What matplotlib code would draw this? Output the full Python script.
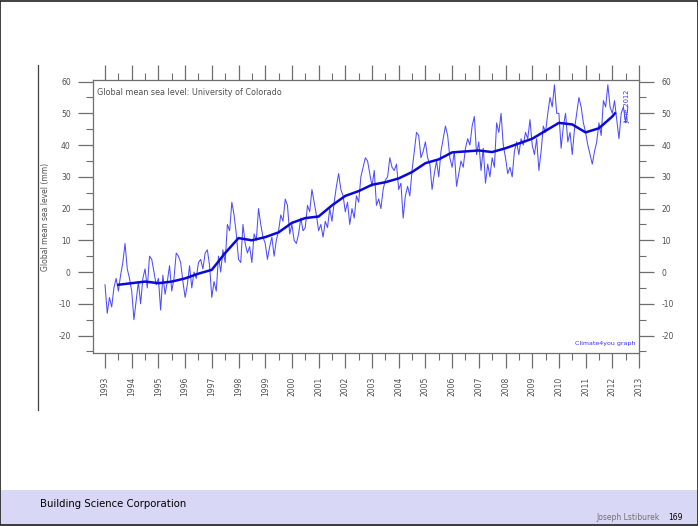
import matplotlib
matplotlib.use("Agg")
import matplotlib.pyplot as plt
from matplotlib.patches import Rectangle
from matplotlib.lines import Line2D
from matplotlib.ticker import MultipleLocator
import numpy as np

plt.rcParams["axes.unicode_minus"] = False

# monthly global mean sea level (mm), 1993.0 onwards
raw_by_year = {
    1993: [-4, -13, -8, -11, -5, -2, -6, -1, 3, 9, 1, -2],
    1994: [-6, -15, -9, -3, -10, -2, 1, -5, 5, 4, 0, -4],
    1995: [-2, -12, -1, -7, -3, 2, -6, -2, 6, 5, 3, -3],
    1996: [-8, -4, 2, -5, 0, -2, 3, 4, 1, 6, 7, 2],
    1997: [-8, -3, -6, 5, 0, 7, 3, 15, 13, 22, 18, 12],
    1998: [4, 3, 15, 9, 6, 8, 3, 12, 10, 20, 15, 11],
    1999: [9, 4, 8, 11, 5, 10, 13, 18, 16, 23, 21, 12],
    2000: [15, 10, 9, 12, 17, 13, 14, 21, 19, 26, 22, 18],
    2001: [13, 15, 11, 16, 14, 20, 16, 22, 27, 31, 26, 24],
    2002: [19, 22, 15, 20, 17, 24, 22, 30, 33, 36, 35, 31],
    2003: [27, 32, 21, 23, 20, 26, 29, 30, 36, 33, 32, 34],
    2004: [26, 28, 17, 24, 27, 24, 32, 38, 44, 43, 36, 38],
    2005: [41, 36, 34, 26, 31, 35, 30, 38, 42, 46, 43, 36],
    2006: [33, 38, 27, 31, 35, 33, 39, 42, 40, 46, 49, 37],
    2007: [41, 32, 39, 28, 34, 30, 36, 33, 47, 44, 50, 40],
    2008: [36, 31, 33, 30, 38, 41, 37, 42, 40, 44, 42, 48],
    2009: [40, 37, 42, 32, 38, 46, 44, 50, 55, 52, 59, 50],
    2010: [50, 39, 46, 50, 41, 44, 37, 45, 50, 55, 52, 47],
    2011: [44, 40, 37, 34, 38, 41, 47, 43, 54, 52, 59, 52],
    2012: [50, 54, 48, 42, 50, 52, 47, 52],
}

# running mean
smooth_years = [1993.5, 1994.0, 1994.5, 1995.0, 1995.5, 1996.0, 1996.5, 1997.0,
                1997.5, 1998.0, 1998.5, 1999.0, 1999.5, 2000.0, 2000.5, 2001.0,
                2001.5, 2002.0, 2002.5, 2003.0, 2003.5, 2004.0, 2004.5, 2005.0,
                2005.5, 2006.0, 2006.5, 2007.0, 2007.5, 2008.0, 2008.5, 2009.0,
                2009.5, 2010.0, 2010.5, 2011.0, 2011.5, 2012.0, 2012.1]
smooth_vals = [-4, -3.5, -3, -3.5, -3, -2, -0.5, 0.7,
               6, 10.7, 10, 11, 12.5, 15.5, 17, 17.5,
               21, 24, 25.5, 27.5, 28.3, 29.5, 31.5, 34.3,
               35.5, 37.7, 38, 38.3, 37.8, 39, 40.5, 42,
               44.5, 47, 46.5, 44, 45.3, 49, 50]

year_ticks = list(range(1993, 2014))

raw_vals = []
raw_times = []
for yr, vals in raw_by_year.items():
    for m, v in enumerate(vals):
        raw_times.append(yr + m / 12)
        raw_vals.append(v)

gray = "#6e6e6e"

fig = plt.figure(figsize=(6.98, 5.26), dpi=100)
fig.patch.set_facecolor("white")

# slide decorations
fig.patches.append(Rectangle((0, 0), 1, 36 / 526, transform=fig.transFigure,
                             facecolor="#d8d8f6", edgecolor="none", zorder=0))
fig.patches.append(Rectangle((0.0007, 0.001), 0.9986, 0.998, transform=fig.transFigure,
                             facecolor="none", edgecolor="#202020", lw=1.2, zorder=5))
fig.lines.append(Line2D([38 / 698, 38 / 698], [1 - 65 / 526, 1 - 410 / 526],
                        transform=fig.transFigure, color="#404040", lw=0.9))
fig.text(40 / 698, 1 - 504 / 526, "Building Science Corporation", fontsize=7.3,
         color="black", va="center", ha="left")
fig.text(660 / 698, 1 - 517 / 526, "Joseph Lstiburek", fontsize=5.5,
         color="#707070", va="center", ha="right")
fig.text(668 / 698, 1 - 517 / 526, "169", fontsize=5.5,
         color="black", va="center", ha="left")

ax = fig.add_axes([93 / 698, 1 - 353 / 526, 546 / 698, 273 / 526])
ax.plot(raw_times, raw_vals, color="#4d4dff", lw=0.75)
ax.plot(smooth_years, smooth_vals, color="#0a0ad8", lw=1.8)

ax.set_xlim(1992.55, 2013)
ax.set_ylim(-25.5, 60.5)

for s in ax.spines.values():
    s.set_color(gray)
    s.set_linewidth(0.9)

ax.set_xticks(year_ticks)
ax.set_xticklabels([str(y) for y in year_ticks], rotation=90)
ax.xaxis.set_minor_locator(MultipleLocator(0.5))
ax.yaxis.set_minor_locator(MultipleLocator(5))
ax.set_yticks(np.arange(-20, 61, 10))

ax.tick_params(axis="both", which="major", direction="out", length=11, width=0.9,
               color=gray, labelcolor="#505050", labelsize=5.5,
               top=True, right=True, labelright=True)
ax.tick_params(axis="both", which="minor", direction="out", length=5, width=0.8,
               color=gray, top=True, right=True)
ax.tick_params(axis="y", which="major", pad=5)
ax.tick_params(axis="x", which="major", pad=6)

ax.set_ylabel("Global mean sea level (mm)", fontsize=5.5, color="#505050", labelpad=6)

ax.text(0.007, 0.955, "Global mean sea level: University of Colorado",
        transform=ax.transAxes, fontsize=5.8, color="#505050", ha="left", va="center")
ax.text(0.978, 0.905, "June 2012", transform=ax.transAxes, fontsize=4.8,
        color="#3030ff", rotation=90, ha="center", va="center")
ax.text(0.993, 0.035, "Climate4you graph", transform=ax.transAxes, fontsize=4.5,
        color="#3030ff", ha="right", va="center")

fig.savefig("out.png", dpi=100)
